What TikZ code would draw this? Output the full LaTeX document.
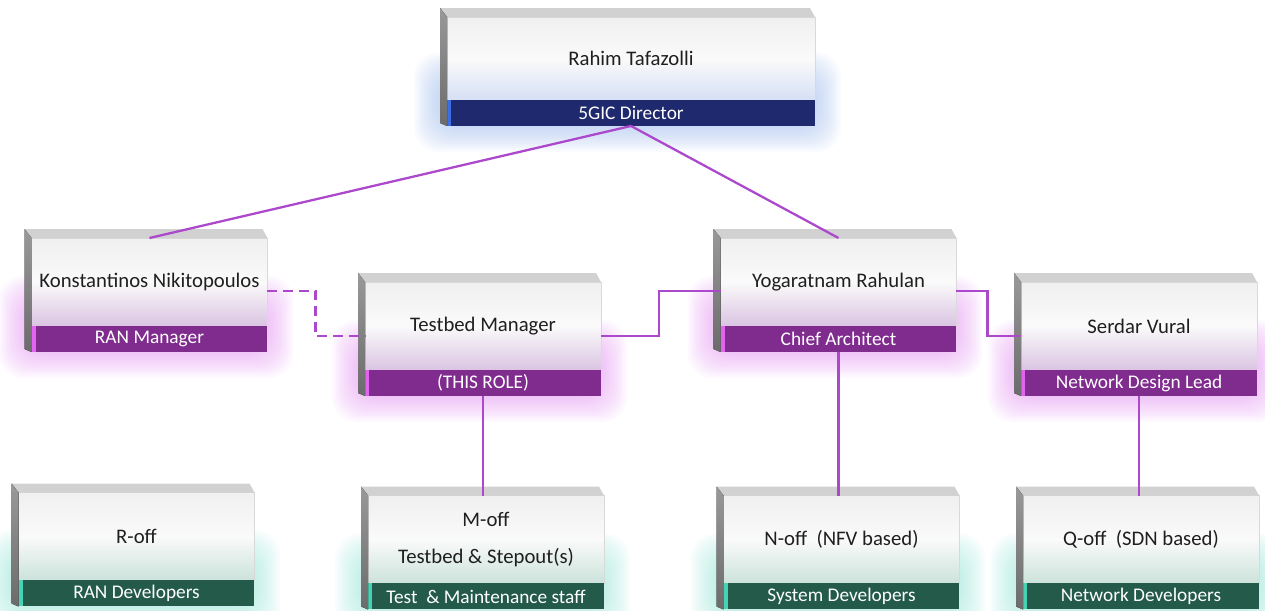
\documentclass[tikz,border=0pt]{standalone}
\usepackage{fontspec}
\setmainfont{Carlito}
\usetikzlibrary{calc,positioning,backgrounds}

\definecolor{linkviolet}{RGB}{172,72,204}
\definecolor{navybar}{RGB}{31,42,110}
\definecolor{navyedge}{RGB}{60,110,230}
\definecolor{navyglow}{RGB}{150,180,235}
\definecolor{navytint}{RGB}{214,224,245}
\definecolor{plumbar}{RGB}{128,44,142}
\definecolor{plumedge}{RGB}{226,100,240}
\definecolor{plumglow}{RGB}{225,140,240}
\definecolor{plumtint}{RGB}{218,196,226}
\definecolor{pinebar}{RGB}{36,90,74}
\definecolor{pineedge}{RGB}{70,210,180}
\definecolor{pineglow}{RGB}{140,225,210}
\definecolor{pinetint}{RGB}{203,226,218}

\begin{document}
\begin{tikzpicture}[x=0.02cm,y=-0.02cm,node distance=0pt]
            \tikzstyle{card} = [rectangle,outer sep=0pt,inner sep=2pt,minimum width=4.72cm,minimum height=1.76cm,draw=black!15,text=black!88,font=\fontsize{11.8}{14}\selectfont,align=center]
            \tikzstyle{navycard} = [card,top color=black!6,bottom color=navytint,middle color=black!2]
            \tikzstyle{plumcard} = [card,top color=black!6,bottom color=plumtint,middle color=black!2]
            \tikzstyle{pinecard} = [card,top color=black!6,bottom color=pinetint,middle color=black!2]
            \tikzstyle{role} = [rectangle,outer sep=0pt,inner sep=0pt,minimum width=4.72cm,minimum height=0.52cm,text=white,font=\fontsize{11}{13}\selectfont]
            \tikzstyle{navyrole} = [role,fill=navybar,path picture={\fill[navyedge] (path picture bounding box.north west) rectangle ([xshift=0.8mm]path picture bounding box.south west);}]
            \tikzstyle{plumrole} = [role,fill=plumbar,path picture={\fill[plumedge] (path picture bounding box.north west) rectangle ([xshift=0.8mm]path picture bounding box.south west);}]
            \tikzstyle{pinerole} = [role,fill=pinebar,path picture={\fill[pineedge] (path picture bounding box.north west) rectangle ([xshift=0.8mm]path picture bounding box.south west);}]
            \tikzstyle{link} = [draw=linkviolet,line width=1.3pt]

            \useasboundingbox (0,0) rectangle (1265,611);

            % director
            \node[navycard,minimum width=7.36cm,minimum height=1.66cm] (rahim) at (631,58.5) {Rahim Tafazolli};
            \node[navyrole,minimum width=7.36cm] (rahim-role) [below=of rahim] {5GIC Director};

            % managers
            \node[plumcard] (kon) at (149.5,282) {Konstantinos Nikitopoulos};
            \node[plumrole] (kon-role) [below=of kon] {RAN Manager};
            \node[plumcard] (tb) at (483,326) {Testbed Manager};
            \node[plumrole] (tb-role) [below=of tb] {(THIS ROLE)};
            \node[plumcard] (yog) at (838.5,282) {Yogaratnam Rahulan};
            \node[plumrole] (yog-role) [below=of yog] {Chief Architect};
            \node[plumcard] (ser) at (1139,326) {Serdar Vural};
            \node[plumrole] (ser-role) [below=of ser] {Network Design Lead};

            % staff
            \node[pinecard] (roff) at (136.5,536.5) {R-off};
            \node[pinerole] (roff-role) [below=of roff] {RAN Developers};
            \node[pinecard] (moff) at (486,539.5) {M-off\\[7pt]Testbed \& Stepout(s)};
            \node[pinerole] (moff-role) [below=of moff] {Test~ \& Maintenance staff};
            \node[pinecard] (noff) at (841.5,539.5) {N-off~ (NFV based)};
            \node[pinerole] (noff-role) [below=of noff] {System Developers};
            \node[pinecard] (qoff) at (1141,539.5) {Q-off~ (SDN based)};
            \node[pinerole] (qoff-role) [below=of qoff] {Network Developers};

            % top and left faces
            \foreach \n in {rahim,kon,tb,yog,ser,roff,moff,noff,qoff} {
                \fill[black!18] (\n.north west) -- ++(-7,-9) -- ($(\n.north east)+(-5,-9)$) -- (\n.north east) -- cycle;
                \fill[top color=black!40,bottom color=black!58] (\n.north west) -- ++(-7,-9) -- ($(\n-role.south west)+(-7,-3)$) -- (\n-role.south west) -- cycle;
            }

            % glow
            \begin{pgfonlayer}{background}
                \foreach \n/\c in {rahim/navyglow,kon/plumglow,tb/plumglow,yog/plumglow,ser/plumglow,roff/pineglow,moff/pineglow,noff/pineglow,qoff/pineglow}
                    \foreach \g in {2,4,...,26}
                        \fill[\c,opacity=0.05,rounded corners=14pt] ($(\n.west)+(-7-\g,20-\g)$) rectangle ($(\n-role.south east)+(\g,\g)$);
            \end{pgfonlayer}

            \draw[link] (rahim-role.south) -- (kon.north);
            \draw[link] (rahim-role.south) -- (yog.north);
            \draw[link,dash pattern=on 5.5pt off 3.5pt] ($(kon.east)+(0,9)$) -- ++(48,0) |- ($(tb.west)+(0,10)$);
            \draw[link] ($(tb.east)+(0,10)$) -- ++(58,0) |- ($(yog.west)+(0,9)$);
            \draw[link] ($(yog.east)+(0,9)$) -- ++(31,0) |- ($(ser.west)+(0,10)$);
            \draw[link] (tb-role.south) -- (tb-role.south |- moff.north);
            \draw[link] (yog-role.south) -- (yog-role.south |- noff.north);
            \draw[link] (ser-role.south) -- (ser-role.south |- qoff.north);
        \end{tikzpicture}
\end{document}
